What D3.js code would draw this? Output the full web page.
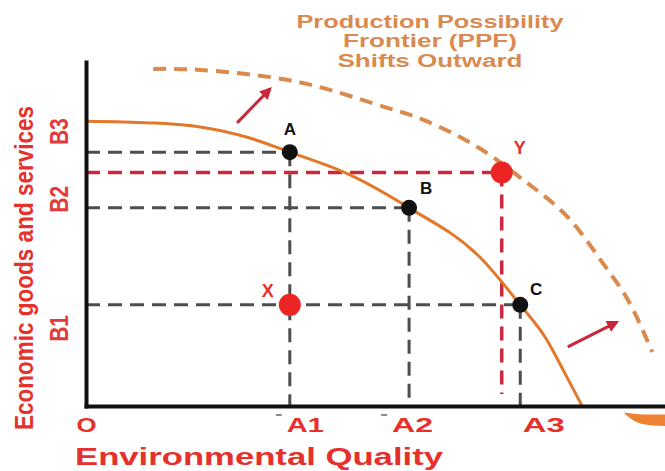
<!DOCTYPE html>
<html>
<head>
<meta charset="utf-8">
<script src="https://cdn.jsdelivr.net/npm/d3@7"></script>
<style>
  html, body { margin: 0; padding: 0; background: #fff; }
  svg { display: block; }
</style>
</head>
<body>
<svg id="chart" width="665" height="471"></svg>
<script>
// ---- Axis levels ----
const xTickNames  = ["O", "A1", "A2", "A3"];
const xTickValues = [0, 35.2, 55.8, 75.0];
const yTickNames  = ["B1", "B2", "B3"];
const yTickValues = [29.4, 57.6, 73.8];

// ---- Named combinations of the two goods ----
const pointNames = ["A", "B", "C", "X", "Y"];
const pointX     = [35.2, 55.8, 75.0, 35.2, 71.8];
const pointY     = [73.8, 57.6, 29.4, 29.4, 67.9];
const pointOnPPF = [true, true, true, false, false];

// ---- Current production possibility frontier ----
const ppfX = [0, 11.1, 19.7, 28.3, 35.2, 45.6, 55.8, 68.0, 75.0, 79.6, 82.4, 85.7];
const ppfY = [82.8, 82.3, 81.1, 77.9, 73.8, 67.2, 57.6, 43.3, 29.4, 19.2, 10.5, 0];

// ---- Frontier after the outward shift ----
const shiftX = [11.6, 19.7, 31.8, 42.1, 51.6, 58.4, 67.9, 76.0, 83.2, 89.1, 93.6, 97.8];
const shiftY = [98.0, 97.7, 95.6, 91.9, 86.9, 83.1, 75.0, 65.1, 54.9, 41.9, 30.8, 15.7];

// ---- Shift arrows (start -> end) ----
const arrowX0 = [26.1, 83.2];
const arrowY0 = [82.3, 17.2];
const arrowX1 = [31.8, 91.7];
const arrowY1 = [92.2, 24.4];

// ---- Small ornament under the right end of the axis ----
const blobX      = [93.0, 95.0, 97.5, 100];
const blobTop    = [-1.9, -2.3, -2.5, -2.5];
const blobBottom = [-2.2, -4.6, -5.6, -5.8];

// ---- Text ----
const titleLines = ["Production Possibility", "Frontier (PPF)", "Shifts Outward"];
const xTitle = "Environmental Quality";
const yTitle = "Economic goods and services";

// ================= drawing =================
const FONT = "'Liberation Sans', Arial, Helvetica, sans-serif";
const svg = d3.select("#chart");
const x = d3.scaleLinear().domain([0, 100]).range([86, 665]);
const y = d3.scaleLinear().domain([0, 100]).range([406, 62]);

const RED = "#e6302b";
const GREY = "#4d4d4d";
const GUIDE_RED = "#c9283d";
const ORANGE = "#e2782a";
const ORANGE_DASH = "#d98a4c";

svg.append("defs").append("marker")
  .attr("id", "arrowHead")
  .attr("viewBox", "0 0 10 10")
  .attr("refX", 8).attr("refY", 5)
  .attr("markerWidth", 4).attr("markerHeight", 4)
  .attr("orient", "auto")
  .append("path").attr("d", "M0,0 L10,5 L0,10 Z").attr("fill", "#c8283a");

// Title
const title = svg.append("g").attr("font-family", FONT).attr("font-weight", "bold")
  .attr("font-size", 18).attr("fill", "#d98a50").attr("text-anchor", "middle");
const titleBase = [28, 47, 67];
const titleLen = [267, 174, 185];
titleLines.forEach((t, i) => {
  title.append("text").attr("x", 430).attr("y", titleBase[i])
    .attr("textLength", titleLen[i]).attr("lengthAdjust", "spacingAndGlyphs").text(t);
});

// Guide lines from each point to the axes
const guides = svg.append("g").attr("fill", "none").attr("stroke-width", 3);
const pts = pointNames.map((n, i) => ({ name: n, x: pointX[i], y: pointY[i], on: pointOnPPF[i] }));
pts.filter(p => p.on).forEach(p => {
  guides.append("line").attr("x1", x(0)).attr("x2", x(p.x)).attr("y1", y(p.y)).attr("y2", y(p.y))
    .attr("stroke", GREY).attr("stroke-dasharray", "14 8");
  guides.append("line").attr("x1", x(p.x)).attr("x2", x(p.x)).attr("y1", y(p.y)).attr("y2", y(0))
    .attr("stroke", GREY).attr("stroke-dasharray", "14 8");
});
const pY = pts.find(p => p.name === "Y");
guides.append("line").attr("x1", x(0)).attr("x2", x(pY.x)).attr("y1", y(pY.y)).attr("y2", y(pY.y))
  .attr("stroke", GUIDE_RED).attr("stroke-dasharray", "14 8").attr("stroke-width", 3.5);
guides.append("line").attr("x1", x(pY.x)).attr("x2", x(pY.x)).attr("y1", y(pY.y)).attr("y2", y(3.5))
  .attr("stroke", GUIDE_RED).attr("stroke-dasharray", "14 8").attr("stroke-width", 3.5);

// Frontiers
const shiftLine = d3.line().x(d => x(d[0])).y(d => y(d[1])).curve(d3.curveNatural);
const ppfLine = d3.line().x(d => x(d[0])).y(d => y(d[1])).curve(d3.curveMonotoneX);
svg.append("path").datum(shiftX.map((v, i) => [v, shiftY[i]]))
  .attr("d", shiftLine).attr("fill", "none").attr("stroke", ORANGE_DASH)
  .attr("stroke-width", 4).attr("stroke-dasharray", "13 8");
svg.append("path").datum(ppfX.map((v, i) => [v, ppfY[i]]))
  .attr("d", ppfLine).attr("fill", "none").attr("stroke", ORANGE).attr("stroke-width", 3);

// Shift arrows
arrowX0.forEach((v, i) => {
  svg.append("line").attr("x1", x(v)).attr("y1", y(arrowY0[i]))
    .attr("x2", x(arrowX1[i])).attr("y2", y(arrowY1[i]))
    .attr("stroke", "#c8283a").attr("stroke-width", 3).attr("marker-end", "url(#arrowHead)");
});

// Axes
const xAxis = d3.axisBottom(x).tickValues(xTickValues)
  .tickFormat((d, i) => xTickNames[i]).tickSize(0).tickSizeOuter(0);
const gx = svg.append("g").attr("transform", `translate(0,${y(0)})`).call(xAxis);
gx.select(".domain").attr("stroke", "#111").attr("stroke-width", 4).attr("stroke-linecap", "square");
const xLabelDx = [0, 15, 3, 23];
const xLabelLen = [20, 37, 41, 42];
gx.selectAll(".tick text")
  .attr("font-family", FONT).attr("font-weight", "bold").attr("font-size", 21)
  .attr("fill", RED).attr("text-anchor", "middle")
  .attr("y", 26).attr("dy", 0)
  .attr("x", (d, i) => xLabelDx[i])
  .attr("textLength", (d, i) => xLabelLen[i]).attr("lengthAdjust", "spacingAndGlyphs");
gx.selectAll(".tick").each(function (d, i) {
  if (i === 1 || i === 2) {
    const left = xLabelDx[i] - xLabelLen[i] / 2;
    d3.select(this).append("line")
      .attr("x1", left - 11).attr("x2", left - 5).attr("y1", 9).attr("y2", 9)
      .attr("stroke", "#666").attr("stroke-width", 1.5);
  }
});

const yAxis = d3.axisLeft(y).tickValues(yTickValues)
  .tickFormat((d, i) => yTickNames[i]).tickSize(0).tickSizeOuter(0);
const gy = svg.append("g").attr("transform", `translate(${x(0)},0)`).call(yAxis);
gy.select(".domain").attr("stroke", "#111").attr("stroke-width", 4).attr("stroke-linecap", "square");
const yLabelDy = [23, -9, -21];
gy.selectAll(".tick text")
  .attr("font-family", FONT).attr("font-weight", "bold").attr("font-size", 21)
  .attr("fill", "#e23a3a").attr("text-anchor", "middle")
  .attr("x", 0).attr("y", 0).attr("dy", 0)
  .attr("transform", (d, i) => `translate(-18,${yLabelDy[i]}) scale(1.2,1) rotate(-90)`);

// Axis titles
svg.append("text").attr("x", 75).attr("y", 465)
  .attr("font-family", FONT).attr("font-weight", "bold").attr("font-size", 24)
  .attr("fill", RED).attr("textLength", 368).attr("lengthAdjust", "spacingAndGlyphs")
  .text(xTitle);
svg.append("text")
  .attr("transform", "translate(33,268) scale(1.2,1) rotate(-90)")
  .attr("text-anchor", "middle")
  .attr("font-family", FONT).attr("font-weight", "bold").attr("font-size", 22)
  .attr("fill", RED).attr("textLength", 324).attr("lengthAdjust", "spacingAndGlyphs")
  .text(yTitle);

// Ornament below the axis end
const blobArea = d3.area().x(d => x(d[0])).y0(d => y(d[1])).y1(d => y(d[2])).curve(d3.curveMonotoneX);
svg.append("path").datum(blobX.map((v, i) => [v, blobTop[i], blobBottom[i]]))
  .attr("d", blobArea).attr("fill", "#ee8232");

// Points
svg.append("g").selectAll("circle").data(pts).join("circle")
  .attr("cx", d => x(d.x)).attr("cy", d => y(d.y))
  .attr("r", d => d.on ? 8 : 11)
  .attr("fill", d => d.on ? "#111" : "#ec2424");

// Point labels
const labelOffset = { A: [0, -17], B: [17, -14], C: [16, -10], X: [-22, -8], Y: [18, -18] };
svg.append("g").selectAll("text").data(pts).join("text")
  .attr("x", d => x(d.x) + labelOffset[d.name][0])
  .attr("y", d => y(d.y) + labelOffset[d.name][1])
  .attr("text-anchor", "middle")
  .attr("font-family", FONT).attr("font-weight", "bold")
  .attr("font-size", d => d.on ? 17 : 18)
  .attr("fill", d => d.on ? "#111" : RED)
  .text(d => d.name);
</script>
</body>
</html>
